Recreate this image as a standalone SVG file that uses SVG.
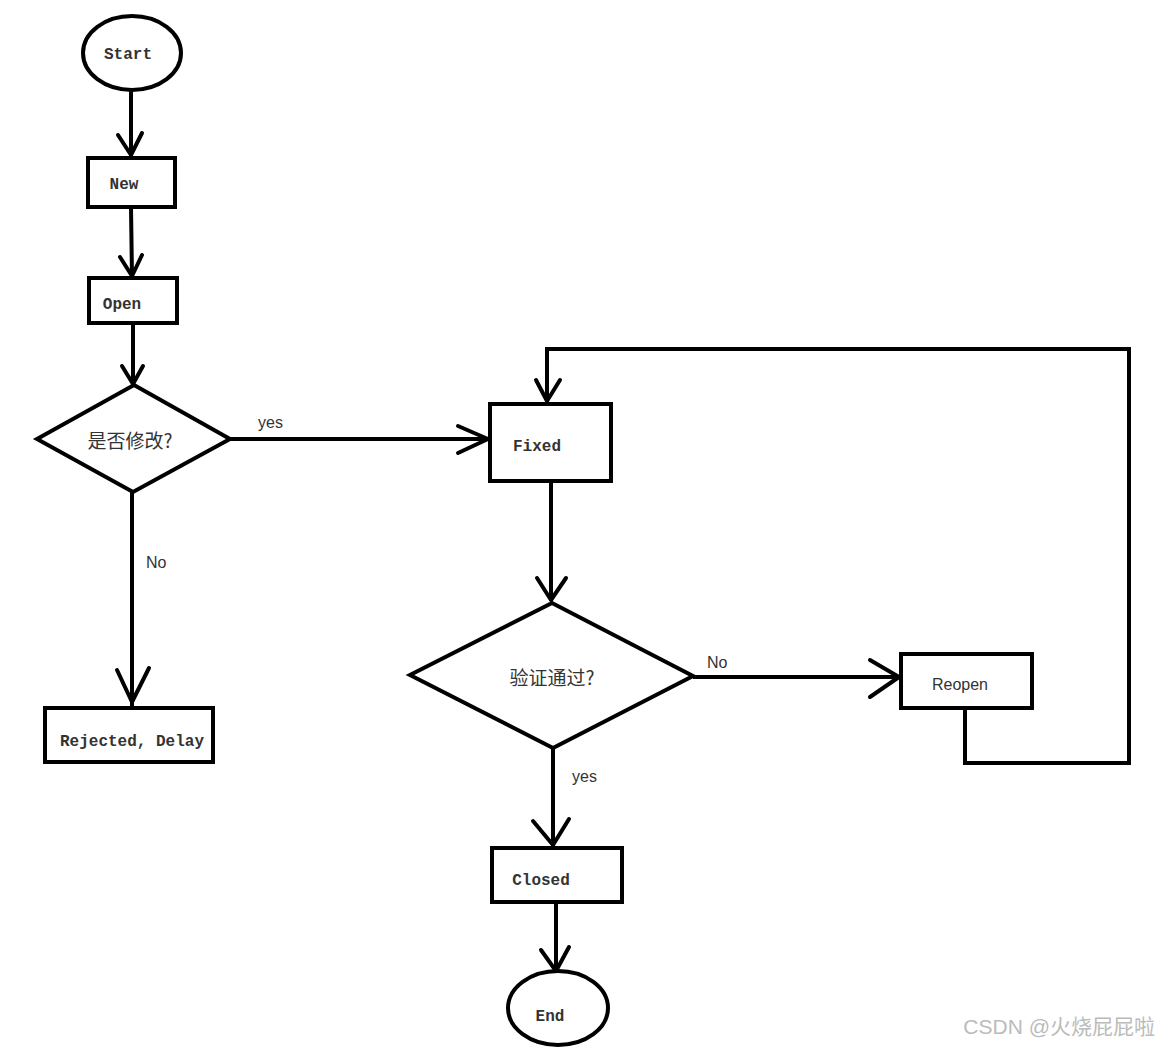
<svg xmlns="http://www.w3.org/2000/svg" width="1159" height="1047" viewBox="0 0 1159 1047">
<style>
.s{fill:#fff;stroke:#000;stroke-width:4}
.c{fill:none;stroke:#000;stroke-width:4;stroke-linejoin:miter}
.a{fill:none;stroke:#000;stroke-width:4;stroke-linecap:round;stroke-linejoin:round}
.m{font-family:"Liberation Mono","Noto Sans CJK SC",monospace;font-size:16px;fill:#333;font-weight:bold}
.t{font-family:"Liberation Sans","Noto Sans CJK SC",sans-serif;font-size:16px;fill:#333}
.k{font-family:"Noto Sans CJK SC",sans-serif;font-size:19px;fill:#333}
</style>
<rect width="1159" height="1047" fill="#fff"/>
<g id="connectors">
<line class="c" x1="131" y1="90" x2="131" y2="156"/>
<polyline class="a" points="118,135 131,155 142,133"/>
<line class="c" x1="131" y1="207" x2="132" y2="277"/>
<polyline class="a" points="120,257 132,276 142,255"/>
<line class="c" x1="133" y1="323" x2="133" y2="385"/>
<polyline class="a" points="122,366 133,384 143,366"/>
<line class="c" x1="230" y1="439" x2="489" y2="439"/>
<polyline class="a" points="458,426 488,439 458,453"/>
<text class="t" x="258" y="428">yes</text>
<line class="c" x1="132" y1="492" x2="132" y2="706"/>
<polyline class="a" points="117,670 132,702 149,668"/>
<text class="t" x="146" y="568">No</text>
<line class="c" x1="551" y1="481" x2="551" y2="601"/>
<polyline class="a" points="537,578 551,600 566,578"/>
<line class="c" x1="693" y1="677" x2="900" y2="677"/>
<polyline class="a" points="870,660 899,677 870,697"/>
<text class="t" x="707" y="668">No</text>
<polyline class="c" points="965,708 965,763 1129,763 1129,349 547,349 547,402"/>
<polyline class="a" points="536,380 547,401 560,380"/>
<line class="c" x1="553" y1="748" x2="553" y2="846"/>
<polyline class="a" points="533,821 553,845 569,819"/>
<text class="t" x="572" y="782">yes</text>
<line class="c" x1="556" y1="902" x2="556" y2="970"/>
<polyline class="a" points="541,950 556,971 569,947"/>
</g>
<g id="start">
<ellipse class="s" cx="132" cy="53" rx="49" ry="37"/>
<text class="m" x="128" y="59" text-anchor="middle">Start</text>
</g>
<g id="new">
<rect class="s" x="88" y="158" width="87" height="49"/>
<text class="m" x="124" y="189" text-anchor="middle">New</text>
</g>
<g id="open">
<rect class="s" x="89" y="278" width="88" height="45"/>
<text class="m" x="122" y="309" text-anchor="middle">Open</text>
</g>
<g id="decision1">
<polygon class="s" points="134,385 230,439 133,492 37,439"/>
<text class="k" x="130" y="448" text-anchor="middle">是否修改?</text>
</g>
<g id="rejected">
<rect class="s" x="45" y="708" width="168" height="54"/>
<text class="m" x="132" y="746" text-anchor="middle">Rejected, Delay</text>
</g>
<g id="fixed">
<rect class="s" x="490" y="404" width="121" height="77"/>
<text class="m" x="537" y="451" text-anchor="middle">Fixed</text>
</g>
<g id="decision2">
<polygon class="s" points="552,603 693,676 553,748 410,675"/>
<text class="k" x="552" y="685" text-anchor="middle">验证通过?</text>
</g>
<g id="reopen">
<rect class="s" x="901" y="654" width="131" height="54"/>
<text class="t" x="960" y="690" text-anchor="middle">Reopen</text>
</g>
<g id="closed">
<rect class="s" x="492" y="848" width="130" height="54"/>
<text class="m" x="541" y="885" text-anchor="middle">Closed</text>
</g>
<g id="end">
<ellipse class="s" cx="558" cy="1008" rx="50" ry="37"/>
<text class="m" x="550" y="1021" text-anchor="middle">End</text>
</g>
<text x="1155" y="1034" text-anchor="end" style="font-family:'Liberation Sans','Noto Sans CJK SC',sans-serif;font-size:21px;fill:#bbb">CSDN @火烧屁屁啦</text>
</svg>
